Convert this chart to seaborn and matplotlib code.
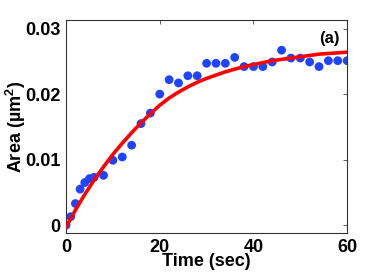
import numpy as np
import pandas as pd
import matplotlib
matplotlib.use("Agg")
import matplotlib.pyplot as plt
import seaborn as sns

# measured area vs time
time_sec = [0, 1, 2, 3, 4, 5, 6, 8, 10, 12, 14, 16, 18, 20, 22, 24, 26, 28, 30,
            32, 34, 36, 38, 40, 42, 44, 46, 48, 50, 52, 54, 56, 58, 60]
area = [0.0000, 0.0013, 0.0033, 0.0055, 0.0065, 0.0071, 0.0073, 0.0076, 0.0099,
        0.0104, 0.0122, 0.0155, 0.0171, 0.0200, 0.0222, 0.0217, 0.0228, 0.0228,
        0.0247, 0.0247, 0.0247, 0.0256, 0.0242, 0.0242, 0.0242, 0.0249, 0.0267,
        0.0255, 0.0255, 0.0249, 0.0242, 0.0251, 0.0251, 0.0251]

# fitted curve
fit_time = [0, 1, 2, 3, 4, 5, 6, 8, 10, 12, 14, 16, 18, 20, 22, 24, 26, 28, 30,
            32, 34, 36, 38, 40, 42, 44, 46, 48, 50, 52, 54, 56, 58, 60]
fit_area = [-0.0003, 0.0010, 0.0023, 0.0035, 0.0047, 0.0058, 0.0069, 0.0089, 0.0108,
            0.0125, 0.0141, 0.0156, 0.0170, 0.0183, 0.0194, 0.0203, 0.0211, 0.0218,
            0.0224, 0.0229, 0.0234, 0.0238, 0.0242, 0.0245, 0.0248, 0.0251, 0.0253,
            0.0255, 0.0257, 0.0259, 0.0261, 0.0262, 0.0263, 0.0264]

y_ticks = [0, 0.01, 0.02, 0.03]
y_tick_labels = ["0", "0.01", "0.02", "0.03"]
x_ticks = [0, 20, 40, 60]

sns.set_style("white")
plt.rcParams['font.family'] = ['Liberation Sans', 'DejaVu Sans']
plt.rcParams['font.weight'] = 'bold'
plt.rcParams['text.color'] = 'black'
plt.rcParams['axes.labelcolor'] = 'black'
plt.rcParams['xtick.color'] = 'black'
plt.rcParams['ytick.color'] = 'black'
plt.rcParams['mathtext.fontset'] = 'custom'
plt.rcParams['mathtext.rm'] = 'Liberation Sans:bold'
plt.rcParams['mathtext.bf'] = 'Liberation Sans:bold'
plt.rcParams['mathtext.it'] = 'Liberation Sans:bold'
plt.rcParams['mathtext.default'] = 'bf'

df = pd.DataFrame({'t': time_sec, 'area': area})
df_fit = pd.DataFrame({'t': fit_time, 'area': fit_area})

fig = plt.figure(figsize=(3.84, 2.73), dpi=100)
ax = fig.add_axes([0.172, 0.1465, 0.732, 0.78])

sns.scatterplot(data=df, x='t', y='area', ax=ax, color='#1f44ff', s=40,
                edgecolor='none', zorder=2)
sns.lineplot(data=df_fit, x='t', y='area', ax=ax, color='#ff0000', linewidth=2.6,
             zorder=3)

ax.set_xlim(0, 60)
ax.set_ylim(-0.0012, 0.0313)
ax.set_xticks(x_ticks)
ax.set_yticks(y_ticks)
ax.set_yticklabels(y_tick_labels)
ax.tick_params(direction='in', length=3, width=0.6, top=True, right=True,
               labelsize=13, pad=4, color='#444444', labelcolor='black')
for lbl in ax.get_xticklabels() + ax.get_yticklabels():
    lbl.set_fontweight('bold')

for sp in ax.spines.values():
    sp.set_color('#333333')
    sp.set_linewidth(0.8)

ax.set_xlabel('Time (sec)', fontsize=13, fontweight='bold', labelpad=-2)
ax.set_ylabel('Area (\u00b5m$^2$)', fontsize=13, fontweight='bold')
ax.yaxis.set_label_coords(-0.135, 0.5)
ax.text(0.975, 0.915, '(a)', transform=ax.transAxes, ha='right', va='center',
        fontsize=12, fontweight='bold')

fig.savefig('out.png', dpi=100)
